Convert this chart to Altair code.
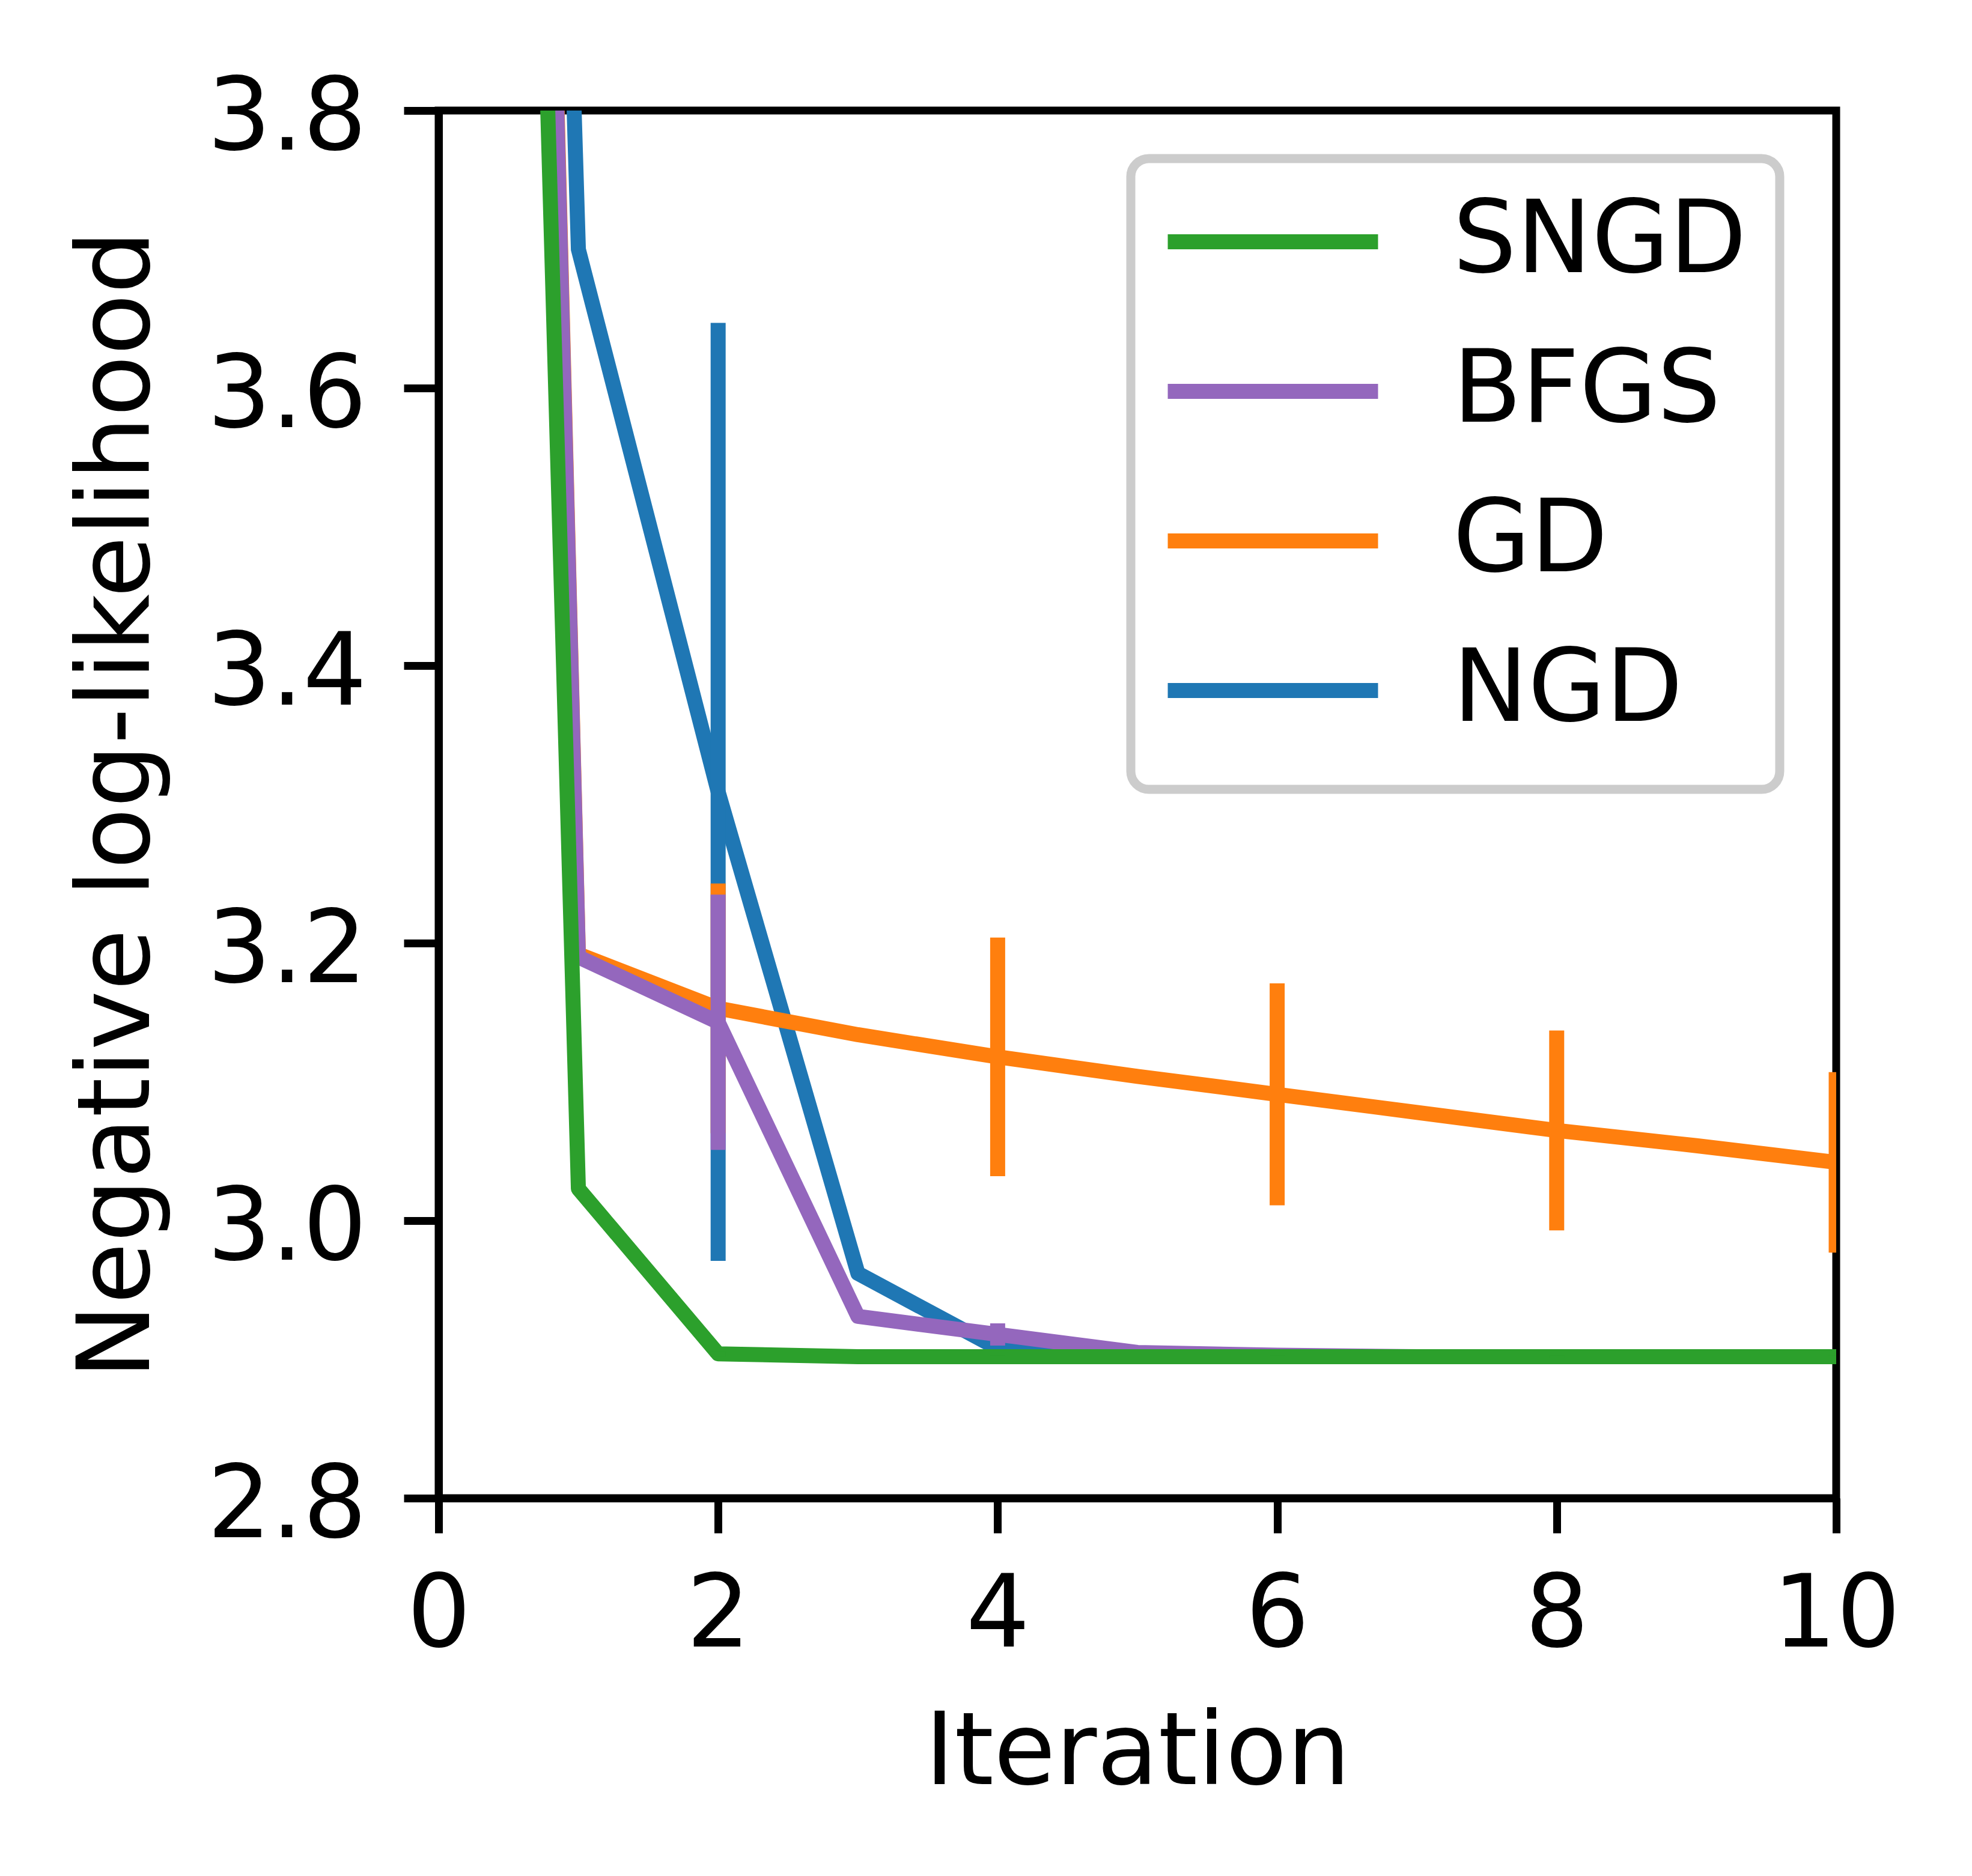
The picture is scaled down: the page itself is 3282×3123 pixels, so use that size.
import altair as alt
import pandas as pd

iterations = list(range(11))
sngd = [6.57, 3.023, 2.904, 2.902, 2.902, 2.902, 2.902, 2.902, 2.902, 2.902, 2.902]
bfgs = [7.15, 3.190, 3.143, 2.931, 2.918, 2.905, 2.903, 2.902, 2.902, 2.902, 2.902]
gd = [7.20, 3.192, 3.153, 3.134, 3.118, 3.104, 3.091, 3.078, 3.065, 3.054, 3.042]
ngd = [7.00, 3.700, 3.309, 2.962, 2.908, 2.903, 2.902, 2.902, 2.902, 2.902, 2.902]

err_iterations = [2, 4, 6, 8, 10]
sngd_err = [0.002, 0.001, 0.001, 0.001, 0.001]
bfgs_err = [0.092, 0.008, 0.002, 0.001, 0.001]
gd_err = [0.090, 0.086, 0.080, 0.072, 0.065]
ngd_err = [0.338, 0.005, 0.002, 0.001, 0.001]

methods = ["SNGD", "BFGS", "GD", "NGD"]
colors = ["#2ca02c", "#9467bd", "#ff7f0e", "#1f77b4"]
draw_order = ["NGD", "GD", "BFGS", "SNGD"]

series = {"SNGD": sngd, "BFGS": bfgs, "GD": gd, "NGD": ngd}
errors = {"SNGD": sngd_err, "BFGS": bfgs_err, "GD": gd_err, "NGD": ngd_err}

line_rows = []
for m, vals in series.items():
    for it, v in zip(iterations, vals):
        line_rows.append({"method": m, "iteration": it, "nll": v})
lines_df = pd.DataFrame(line_rows)

err_rows = []
for m, errs in errors.items():
    for it, e in zip(err_iterations, errs):
        mean = series[m][it]
        err_rows.append({"method": m, "iteration": it, "lo": mean - e, "hi": mean + e})
err_df = pd.DataFrame(err_rows)

FONT = "DejaVu Sans"
FS = 167

x_scale = alt.Scale(domain=[0, 10], nice=False, zero=False)
y_scale = alt.Scale(domain=[2.8, 3.8], nice=False, zero=False)

x_axis = alt.Axis(
    values=[0, 2, 4, 6, 8, 10], format="d", title="Iteration",
    labelPadding=188, labelBaseline="alphabetic", labelFlush=False, labelOverlap=False,
    titleY=475, titleBaseline="alphabetic",
)
y_axis = alt.Axis(
    values=[2.8, 3.0, 3.2, 3.4, 3.6, 3.8], format=".1f", title="Negative log-likelihood",
    labelPadding=62, labelBaseline="alphabetic", labelOffset=64, labelFlush=False, labelOverlap=False,
    titleX=-483, titleBaseline="alphabetic", titleAngle=270,
)

color = alt.Color(
    "method:N",
    scale=alt.Scale(domain=methods, range=colors),
    legend=alt.Legend(
        title=None, orient="none", legendX=1152, legendY=80,
        symbolType="M-3.465,0H3.465M0,1.16", symbolSize=10201, symbolStrokeWidth=25, symbolOffset=98,
        labelFontSize=FS, labelFont=FONT, labelColor="black", labelOffset=216,
        labelLimit=2000, padding=55, rowPadding=55,
        strokeColor="#cccccc", cornerRadius=30, fillColor="white",
    ),
)

layers = []
for m in draw_order:
    line = alt.Chart(lines_df).transform_filter(
        alt.datum.method == m
    ).mark_line(strokeWidth=25, strokeJoin="round", strokeCap="butt", clip=True).encode(
        x=alt.X("iteration:Q", scale=x_scale, axis=x_axis, title="Iteration"),
        y=alt.Y("nll:Q", scale=y_scale, axis=y_axis, title="Negative log-likelihood"),
        color=color,
    )
    rule = alt.Chart(err_df).transform_filter(
        alt.datum.method == m
    ).mark_rule(strokeWidth=25, strokeCap="butt", clip=True).encode(
        x=alt.X("iteration:Q", scale=x_scale, axis=x_axis, title="Iteration"),
        y=alt.Y("lo:Q", scale=y_scale, axis=y_axis, title="Negative log-likelihood"),
        y2="hi:Q",
        color=color,
    )
    layers += [line, rule]

chart = alt.layer(*layers).properties(
    width=2326, height=2310,
    autosize=alt.AutoSizeParams(type="none"),
    padding={"left": 722, "top": 176, "right": 218, "bottom": 621},
).configure_view(
    stroke="black", strokeWidth=13
).configure_axis(
    domainColor="black", domainWidth=13, tickColor="black", tickWidth=13, tickSize=58,
    labelFont=FONT, labelFontSize=FS, labelColor="black", labelLimit=2000,
    titleFont=FONT, titleFontSize=FS, titleColor="black", titleFontWeight="normal",
    titleLimit=5000, grid=False, zindex=1,
).configure_legend(
    strokeWidth=15,
)

chart.save("out.html", embed_options={"renderer": "svg", "actions": False})
